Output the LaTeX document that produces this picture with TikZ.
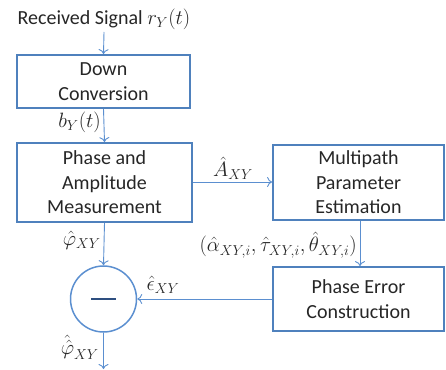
\documentclass[tikz,border=0pt]{standalone}
\usepackage{fontspec}
\setmainfont{Carlito}
\usetikzlibrary{arrows.meta}
\definecolor{boxblue}{HTML}{4F81BD}
\definecolor{lineblue}{HTML}{5B8FD0}
\definecolor{minusblue}{HTML}{2E4F80}
\definecolor{txt}{HTML}{262626}
\tikzset{
  blk/.style={draw=boxblue, line width=1.8pt, align=center, text=txt, inner sep=0pt},
  arr/.style={draw=lineblue, line width=0.9pt, -{To[length=5pt,width=10pt]}},
  lbl/.style={text=txt, inner sep=0pt},
}
\begin{document}
\begin{tikzpicture}[x=1pt,y=-1pt,font=\fontsize{20}{24.4}\selectfont]
\useasboundingbox (0,0) rectangle (446,369);
\node[lbl] (title) at (104,19) {Received Signal $r_Y(t)$};
\coordinate (tstart) at (104,32);
\node[blk, minimum width=173pt, minimum height=53pt] (down) at (103.5,81.5) {Down\\Conversion};
\node[blk, minimum width=175pt, minimum height=79pt] (pam) at (104.5,182.5) {Phase and\\Amplitude\\Measurement};
\node[blk, minimum width=171pt, minimum height=75pt] (mpe) at (358.5,182.5) {Multipath\\Parameter\\Estimation};
\node[blk, minimum width=171pt, minimum height=64pt] (pec) at (358.5,299) {Phase Error\\Construction};
\node[draw=lineblue, line width=1.5pt, circle, minimum size=66pt, inner sep=0pt] (sub) at (103.5,299) {};
\draw[minusblue, line width=2.8pt] ([xshift=-12.5pt]sub.center) -- ([xshift=12.5pt]sub.center);
\coordinate (out) at (103.5,369);

\draw[arr] (tstart) -- (down.north);
\draw[arr] (down.south) -- (pam.north);
\draw[arr] (pam.south) -- (sub.north);
\draw[arr] (pam.east |- 0,182) -- (mpe.west |- 0,182);
\draw[arr] (mpe.south -| 360,0) -- (pec.north -| 360,0);
\draw[arr] (pec.west) -- (sub.east);
\draw[arr] (sub.south) -- (out);

\node[lbl, anchor=east] (lb) at (101,122) {$b_Y(t)$};
\node[lbl, anchor=east] (lphi) at (101,240) {$\hat{\varphi}_{XY}$};
\node[lbl] (lA) at (233,168) {$\hat{A}_{XY}$};
\node[lbl, anchor=east] (lpar) at (357,245) {$(\hat{\alpha}_{XY,i},\hat{\tau}_{XY,i},\hat{\theta}_{XY,i})$};
\node[lbl] (leps) at (163,285) {$\hat{\epsilon}_{XY}$};
\node[lbl, anchor=east] (lphi2) at (99,347) {$\hat{\hat{\varphi}}_{XY}$};
\end{tikzpicture}
\end{document}
